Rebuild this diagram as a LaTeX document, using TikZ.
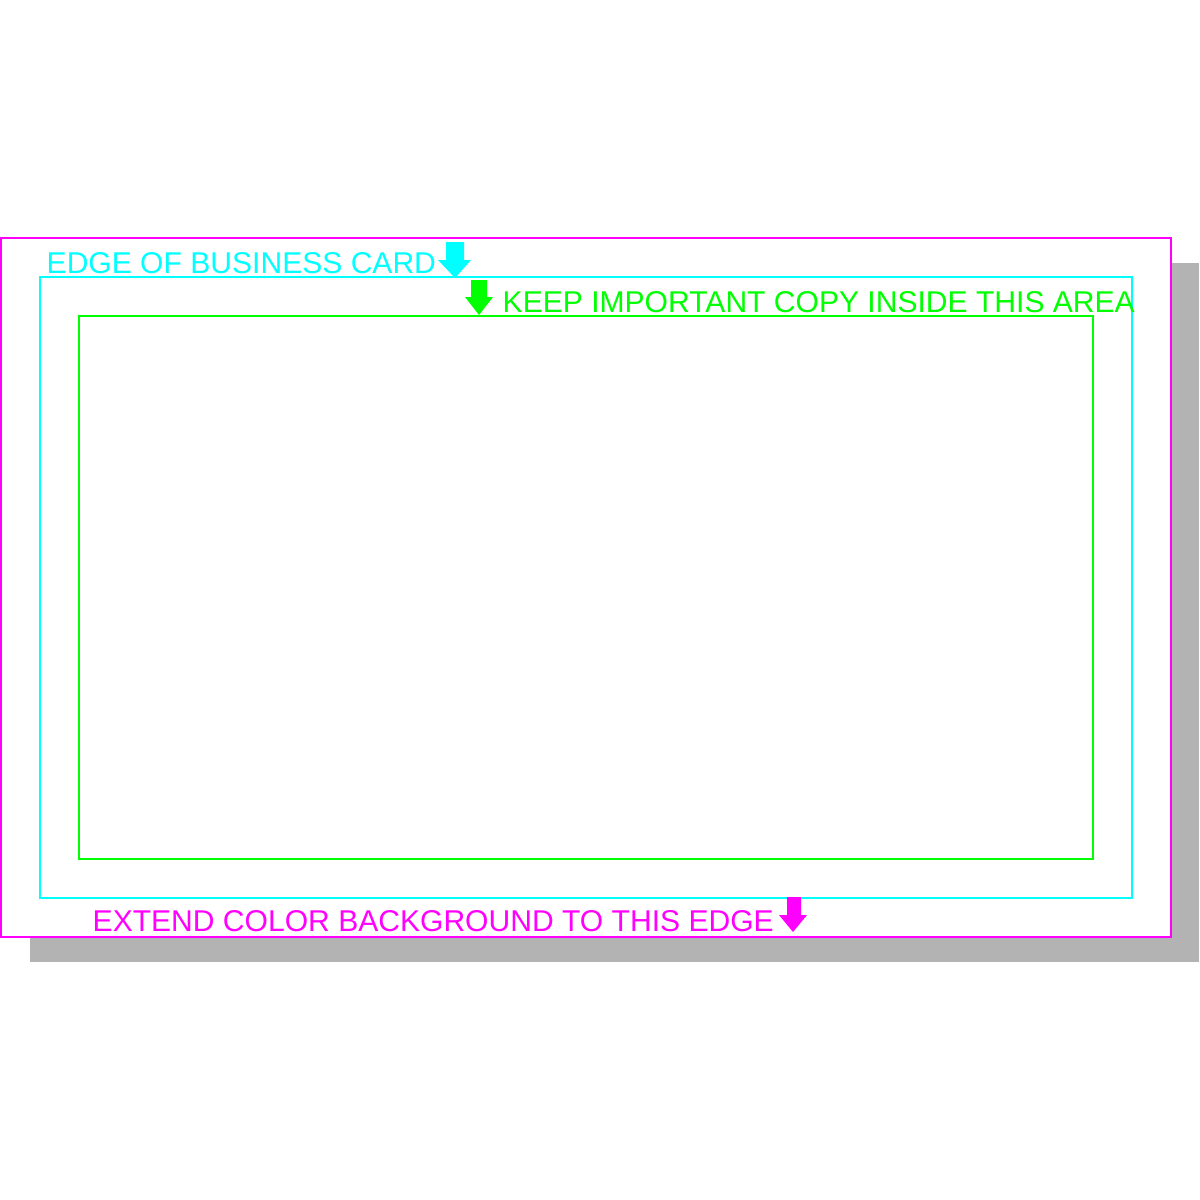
\documentclass[tikz,border=0pt]{standalone}
\usepackage{fontspec}
\setmainfont{Liberation Sans}
\definecolor{cmag}{RGB}{255,0,255}
\definecolor{ccyan}{RGB}{0,255,255}
\definecolor{cgreen}{RGB}{0,255,0}
\definecolor{cshadow}{RGB}{179,179,179}
\tikzset{
  lbl/.style={inner sep=0pt, anchor=base west, font=\fontsize{8.55}{10}\selectfont},
  frame/.style={line width=0.55pt},
}
\begin{document}
\begin{tikzpicture}[x=0.01cm,y=-0.01cm]
\useasboundingbox (0,0) rectangle (1200,1200);
% shadow
\fill[cshadow] (30,263) rectangle (1199,962);
% card edge
\draw[frame, cmag, fill=white] (1,238) rectangle (1171,937);
% business card edge
\draw[frame, ccyan] (40,277) rectangle (1132,898);
% safe area
\draw[frame, cgreen] (79,316) rectangle (1093,859);
% labels
\node[lbl, text=ccyan] (edge) at (46,273.5) {EDGE OF BUSINESS CARD};
\node[lbl, text=cgreen] (keep) at (502,312.5) {KEEP IMPORTANT COPY INSIDE THIS AREA};
\node[lbl, text=cmag] (ext) at (92,931.5) {EXTEND COLOR BACKGROUND TO THIS EDGE};
% arrows
\fill[ccyan] (446,242) -- (464,242) -- (464,260) -- (471,260) -- (455,278) -- (438,260) -- (446,260) -- cycle;
\fill[cgreen] (471,280) -- (487,280) -- (487,297) -- (493,297) -- (479,315) -- (465,297) -- (471,297) -- cycle;
\fill[cmag] (787,897) -- (801,897) -- (801,915) -- (807,915) -- (793,932) -- (779,915) -- (787,915) -- cycle;
\end{tikzpicture}
\end{document}
